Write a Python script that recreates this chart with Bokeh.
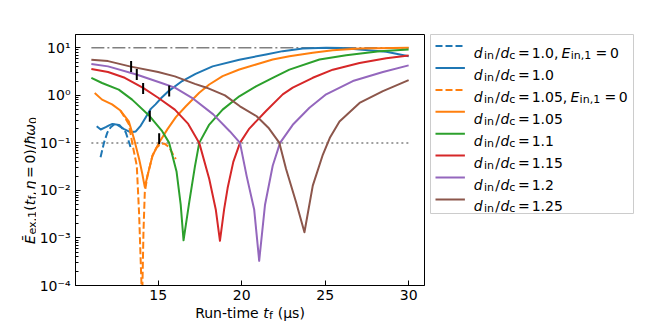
import math
from bokeh.plotting import figure
from bokeh.layouts import row, column
from bokeh.models import Range1d, FixedTicker, CustomJSTickFormatter, ColumnDataSource
from bokeh.core.properties import value
from bokeh.embed import file_html
from bokeh.resources import INLINE

# ---------------- data ----------------
blue_e0_x = [11.55, 11.76, 11.96, 12.16, 12.4, 12.7, 13.06, 13.26, 13.38]
blue_e0_y = [0.0501, 0.102, 0.166, 0.214, 0.251, 0.234, 0.166, 0.102, 0.0741]

blue_x = [11.32, 11.56, 11.86, 12.06, 12.26, 12.56, 12.96, 13.36, 13.66, 13.96, 14.26, 14.56, 14.84,
          15.2, 15.66, 16.44, 17.24, 18.26, 19.86, 21.46, 22.46, 23.66, 25.06, 26.0, 27.06, 28.66, 30.0]
blue_y = [0.224, 0.191, 0.214, 0.234, 0.251, 0.24, 0.195, 0.167, 0.174, 0.231, 0.347, 0.519, 0.646,
          0.891, 1.26, 2.0, 2.82, 4.07, 5.62, 7.24, 8.51, 9.66, 10.0, 9.89, 9.2, 8.22, 6.61]

orange_e0_x = [12.74, 13.24, 13.5, 13.72, 13.86, 14.0, 14.03, 14.06, 14.12, 14.2, 14.36, 14.66, 14.9,
               15.16, 15.4, 15.66, 15.9, 16.06]
orange_e0_y = [0.479, 0.251, 0.0794, 0.0331, 0.00316, 0.000107, 0.00001, 0.000107, 0.00132, 0.00912,
               0.0204, 0.0537, 0.0794, 0.0955, 0.0955, 0.0813, 0.0562, 0.0457]

orange_x = [11.2, 11.64, 12.24, 12.74, 13.24, 13.56, 13.86, 14.05, 14.2, 14.36, 14.66, 15.06, 15.56,
            16.06, 16.66, 17.46, 18.06, 18.86, 19.86, 20.86, 21.86, 22.86, 24.26, 25.46, 27.06, 30.0]
orange_y = [1.12, 0.813, 0.646, 0.479, 0.285, 0.12, 0.0457, 0.0224, 0.0117, 0.0204, 0.0537, 0.102, 0.195,
            0.347, 0.59, 1.13, 1.69, 2.53, 3.49, 4.45, 5.68, 6.67, 7.83, 8.91, 9.66, 10.0]

green_x = [11.0, 11.64, 12.64, 13.44, 14.5, 15.24, 15.66, 16.1, 16.35, 16.52, 16.86, 17.2, 17.46,
           18.06, 18.86, 19.86, 20.86, 21.86, 22.86, 24.66, 26.26, 28.26, 30.0]
green_y = [2.34, 1.82, 1.32, 0.813, 0.363, 0.176, 0.1, 0.0251, 0.00501, 0.000891, 0.00562, 0.0316, 0.1,
           0.243, 0.501, 0.955, 1.55, 2.34, 3.47, 5.68, 7.0, 8.49, 9.2]

red_x = [11.0, 12.0, 13.0, 14.1, 15.0, 16.0, 16.8, 17.46, 18.06, 18.45, 18.7, 18.95, 19.16, 19.5,
         19.9, 20.46, 21.46, 22.46, 23.06, 24.26, 25.46, 27.06, 28.66, 30.0]
red_y = [3.59, 3.09, 2.34, 1.43, 0.891, 0.501, 0.251, 0.1, 0.0174, 0.00398, 0.000871, 0.00398, 0.0112,
         0.0398, 0.1, 0.2, 0.468, 1.05, 1.45, 2.34, 3.47, 4.79, 6.03, 6.92]

purple_x = [11.0, 12.0, 13.7, 15.2, 16.0, 17.1, 18.3, 19.3, 19.9, 20.3, 20.75, 21.05, 21.4, 21.86,
            22.3, 23.06, 24.06, 25.06, 26.66, 28.46, 30.0]
purple_y = [4.57, 4.07, 2.75, 1.82, 1.45, 0.851, 0.398, 0.174, 0.1, 0.02, 0.00398, 0.000331, 0.00501,
            0.0331, 0.1, 0.24, 0.55, 1.05, 2.0, 3.09, 4.27]

brown_x = [11.0, 12.0, 13.3, 15.0, 16.0, 17.2, 17.9, 19.0, 19.9, 20.9, 21.6, 22.26, 22.66, 23.26,
           23.76, 24.26, 24.86, 25.3, 25.86, 27.06, 28.46, 30.0]
brown_y = [5.62, 5.25, 4.07, 3.09, 2.51, 1.74, 1.45, 1.0, 0.589, 0.363, 0.209, 0.1, 0.0282, 0.00562,
           0.00132, 0.0126, 0.0562, 0.132, 0.282, 0.692, 1.23, 2.09]

marker_x = [13.38, 13.72, 14.1, 15.66, 14.5, 15.06]
marker_y = [4.04, 2.75, 1.39, 1.24, 0.363, 0.122]

ref_x = [11.0, 30.0]
ref_top = [10.0, 10.0]
ref_floor = [0.1, 0.1]

x_ticks = [15, 20, 25, 30]
y_ticks = [1e-4, 1e-3, 1e-2, 1e-1, 1e0, 1e1]
y_minor = [m * 10.0 ** e for e in range(-4, 2) for m in range(2, 10)]

ratios = ["1.0", "1.0", "1.05", "1.05", "1.1", "1.15", "1.2", "1.25"]
e_zero = [True, False, True, False, False, False, False, False]

# ---------------- style ----------------
FONT = "DejaVu Sans"
FS = 14.0
SUB = 11.0
COL = ["#1f77b4", "#1f77b4", "#ff7f0e", "#ff7f0e", "#2ca02c", "#d62728", "#9467bd", "#8c564b"]
DASH = "7 3"
LW = 2

W = {'d': 0.635, 'i': 0.278, 'n': 0.634, '/': 0.337, 'c': 0.550, '=': 0.838, '0': 0.636, '1': 0.636,
     '2': 0.636, '5': 0.636, '.': 0.318, ',': 0.318, ' ': 0.318, 'E': 0.632, 'Ē': 0.632, 'e': 0.615,
     'x': 0.592, '(': 0.390, ')': 0.390, 't': 0.392, 'f': 0.352, 'η': 0.634, 'ħ': 0.634, 'ω': 0.812,
     'R': 0.695, 'u': 0.634, '-': 0.361, 'm': 0.974, 'μ': 0.636, 's': 0.521}


def tw(s, size):
    return sum(W.get(ch, 0.6) for ch in s) * size


def compose(pieces):
    out, pos = [], 0.0
    for pc in pieces:
        if isinstance(pc, (int, float)):
            pos += pc
            continue
        t, kind = pc
        size = SUB if kind == "sub" else FS
        out.append((t, kind, pos, size))
        pos += tw(t, size)
    return out, pos


def strip(xr, yr, fw, fh):
    f = figure(x_range=xr, y_range=yr, frame_width=fw, frame_height=fh, title=None,
               min_border_left=0, min_border_right=0, min_border_top=0, min_border_bottom=0,
               output_backend="svg", toolbar_location=None,
               x_axis_location=None, y_axis_location=None)
    f.grid.visible = False
    f.outline_line_color = None
    f.background_fill_color = "white"
    f.border_fill_color = "white"
    return f


def put_text(fig, xs, ys, ts, sizes, styles, angle=0.0):
    src = ColumnDataSource(dict(x=xs, y=ys, text=ts, size=[f"{s:.1f}px" for s in sizes], style=styles))
    fig.text(x="x", y="y", text="text", source=src, text_font_size="size", text_font_style="style",
             text_align="left", text_baseline="alphabetic", text_color="black",
             text_font=value(FONT), angle=angle)


# ---------------- main figure ----------------
p = figure(x_range=Range1d(10.05, 30.95), y_range=Range1d(1e-4, 19.05), y_axis_type="log",
           frame_width=349, frame_height=251, min_border_left=39, min_border_right=5,
           min_border_top=31, min_border_bottom=20, output_backend="svg", toolbar_location=None)
p.grid.visible = False
p.outline_line_color = "black"
p.outline_line_width = 1
p.background_fill_color = "white"
p.border_fill_color = "white"

p.xaxis.ticker = FixedTicker(ticks=x_ticks, minor_ticks=[])
p.yaxis.ticker = FixedTicker(ticks=y_ticks, minor_ticks=y_minor)
p.yaxis.formatter = CustomJSTickFormatter(code="""
const sup = {"-":"\u207b","0":"\u2070","1":"\u00b9","2":"\u00b2","3":"\u00b3","4":"\u2074",
             "5":"\u2075","6":"\u2076","7":"\u2077","8":"\u2078","9":"\u2079"};
const e = Math.round(Math.log10(tick));
return "10" + String(e).split("").map(c => sup[c]).join("");
""")
for ax in (p.xaxis, p.yaxis):
    ax.axis_line_color = "black"
    ax.major_tick_line_color = "black"
    ax.minor_tick_line_color = "black"
    ax.major_tick_in = 5
    ax.major_tick_out = 0
    ax.minor_tick_in = 3
    ax.minor_tick_out = 0
    ax.major_label_text_font = FONT
    ax.major_label_text_font_size = f"{FS}px"
    ax.major_label_text_color = "black"
p.xaxis.major_label_standoff = 4
p.yaxis.major_label_standoff = 5

p.line(ref_x, ref_top, line_color="gray", line_width=1.5, line_dash="13 3 2 3")
p.line(ref_x, ref_floor, line_color="gray", line_width=1.5, line_dash="2 3")

series = [(blue_e0_x, blue_e0_y, True), (blue_x, blue_y, False),
          (orange_e0_x, orange_e0_y, True), (orange_x, orange_y, False),
          (green_x, green_y, False), (red_x, red_y, False),
          (purple_x, purple_y, False), (brown_x, brown_y, False)]
for (xs, ys, dashed), c in zip(series, COL):
    p.line(xs, ys, line_color=c, line_width=LW, line_join="round",
           line_dash=DASH if dashed else "solid")

p.scatter(marker_x, marker_y, marker="dash", angle=math.pi / 2, size=11,
          line_color="black", line_width=2)

# ---------------- y-axis label strip ----------------
ylab = strip(Range1d(8, 44), Range1d(0, 302), 36, 302)
yl_pieces = [("Ē", "it"), 0.6, ("ex,1", "sub"), ("(", "rm"), ("t", "it"), 0.3, ("f", "sub"), (",", "rm"),
             1.8, ("η", "it"), 2.6, ("=", "rm"), 2.6, ("0", "rm"), (")", "rm"), ("/", "rm"),
             ("ħ", "it"), ("ω", "it"), 0.3, ("0", "sub")]
comp, L = compose(yl_pieces)
y_start = 310 - (166.0 + L / 2) + 12.0
put_text(ylab, [37.5 + (2.5 if k == "sub" else 0.0) for _, k, _, _ in comp],
         [y_start + o for _, _, o, _ in comp], [t for t, _, _, _ in comp],
         [s for _, _, _, s in comp], ["italic" if k == "it" else "normal" for _, k, _, _ in comp],
         angle=math.pi / 2)

# ---------------- legend figure ----------------
leg = figure(x_range=Range1d(438.3, 641.3), y_range=Range1d(220.7, 41.7), frame_width=203,
             frame_height=179, min_border_left=1, min_border_right=15, min_border_top=34,
             min_border_bottom=89, output_backend="svg", toolbar_location=None, title=None,
             x_axis_location=None, y_axis_location=None)
leg.grid.visible = False
leg.outline_line_color = "#cccccc"
leg.outline_line_width = 1
leg.background_fill_color = "white"
leg.border_fill_color = "white"

ROW0, STEP = 53.3, 21.9
TX0 = 481.5
prefix = [("d", "it", 0.0), ("in", "sub", 10.3), ("/", "rm", 21.6), ("d", "it", 26.9),
          ("c", "sub", 35.6), ("=", "rm", 44.3)]
NUM_OFF = 58.0
tx, ty, tt, tsz, tst = [], [], [], [], []


def add(t, kind, x, yb):
    tx.append(x)
    ty.append(yb + (2.5 if kind == "sub" else 0.0))
    tt.append(t)
    tsz.append(SUB if kind == "sub" else FS)
    tst.append("italic" if kind == "it" else "normal")


for i, (r, ez, c) in enumerate(zip(ratios, e_zero, COL)):
    yc = ROW0 + STEP * i
    yb = yc + 7.0
    leg.line([443.3, 472.7], [yc, yc], line_color=c, line_width=LW, line_dash=DASH if ez else "solid")
    for t, k, o in prefix:
        add(t, k, TX0 + o, yb)
    nx = TX0 + NUM_OFF
    add(r + ("," if ez else ""), "rm", nx, yb)
    if ez:
        ex = nx + tw(r + ",", FS) + 3.2
        add("E", "it", ex, yb)
        add("in,1", "sub", ex + 9.1, yb)
        add("=", "rm", ex + 34.0, yb)
        add("0", "rm", ex + 48.3, yb)
put_text(leg, tx, ty, tt, tsz, tst)

# ---------------- x-axis label strip ----------------
xlab = strip(Range1d(8, 656), Range1d(0, 22), 648, 22)
xl_pieces = [("Run-time", "rm"), 3.9, ("t", "it"), 0.4, ("f", "sub"), 4.8, ("(μs)", "rm")]
comp, L = compose(xl_pieces)
x0 = 257.5 - L / 2
put_text(xlab, [x0 + o for _, _, o, _ in comp],
         [332 - 320.5 - (2.5 if k == "sub" else 0.0) for _, k, _, _ in comp],
         [t for t, _, _, _ in comp], [s for _, _, _, s in comp],
         ["italic" if k == "it" else "normal" for _, k, _, _ in comp])

layout = column(row(ylab, p, leg), xlab)
open("out.html", "w").write(file_html(layout, INLINE))
